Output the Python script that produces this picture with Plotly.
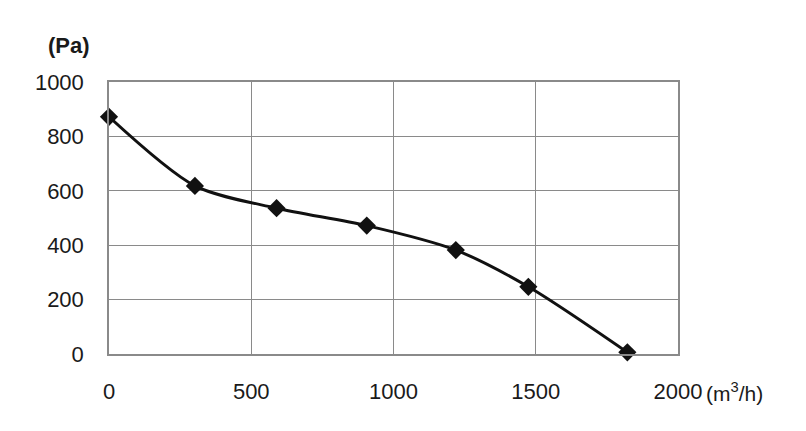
import plotly.graph_objects as go

flow = [0, 302, 589, 906, 1219, 1474, 1822]
pressure = [872, 618, 536, 472, 382, 247, 6]
x_ticks = [0, 500, 1000, 1500, 2000]
y_ticks = [0, 200, 400, 600, 800, 1000]

fig = go.Figure()
fig.add_trace(go.Scatter(
    x=flow, y=pressure, mode="lines+markers",
    line=dict(color="#111111", width=3, shape="spline", smoothing=0.8),
    marker=dict(symbol="diamond", size=14, color="#111111"),
    cliponaxis=False, showlegend=False,
))

font = dict(family="Liberation Sans, Arial, sans-serif", size=22, color="#1a1a1a")
fig.update_layout(
    width=806, height=431,
    margin=dict(l=101, r=136, t=74, b=85, autoexpand=False),
    paper_bgcolor="white", plot_bgcolor="white",
    font=font,
    xaxis=dict(range=[0, 2000], tickvals=x_ticks, showgrid=True, gridcolor="#8a8a8a",
               gridwidth=1, showline=True, linecolor="#8a8a8a", linewidth=1.5, mirror=True,
               zeroline=False, ticks="", ticklabelstandoff=17, tickfont=font, automargin=False),
    yaxis=dict(range=[0, 1000], tickvals=y_ticks, showgrid=True, gridcolor="#8a8a8a",
               gridwidth=1, showline=True, linecolor="#8a8a8a", linewidth=1.5, mirror=True,
               zeroline=False, ticks="", ticklabelstandoff=19, tickfont=font, automargin=False),
    annotations=[
        dict(text="<b>(Pa)</b>", xref="paper", yref="paper", x=-0.111, y=1.135,
             xanchor="left", yanchor="middle", showarrow=False,
             font=dict(family="Liberation Sans, Arial, sans-serif", size=22, color="#1a1a1a")),
        dict(text="(m<sup>3</sup>/h)", xref="paper", yref="paper", x=1.045, y=-0.14,
             xanchor="left", yanchor="middle", showarrow=False,
             font=dict(family="Liberation Sans, Arial, sans-serif", size=21, color="#1a1a1a")),
    ],
)

fig.write_html("out.html")
